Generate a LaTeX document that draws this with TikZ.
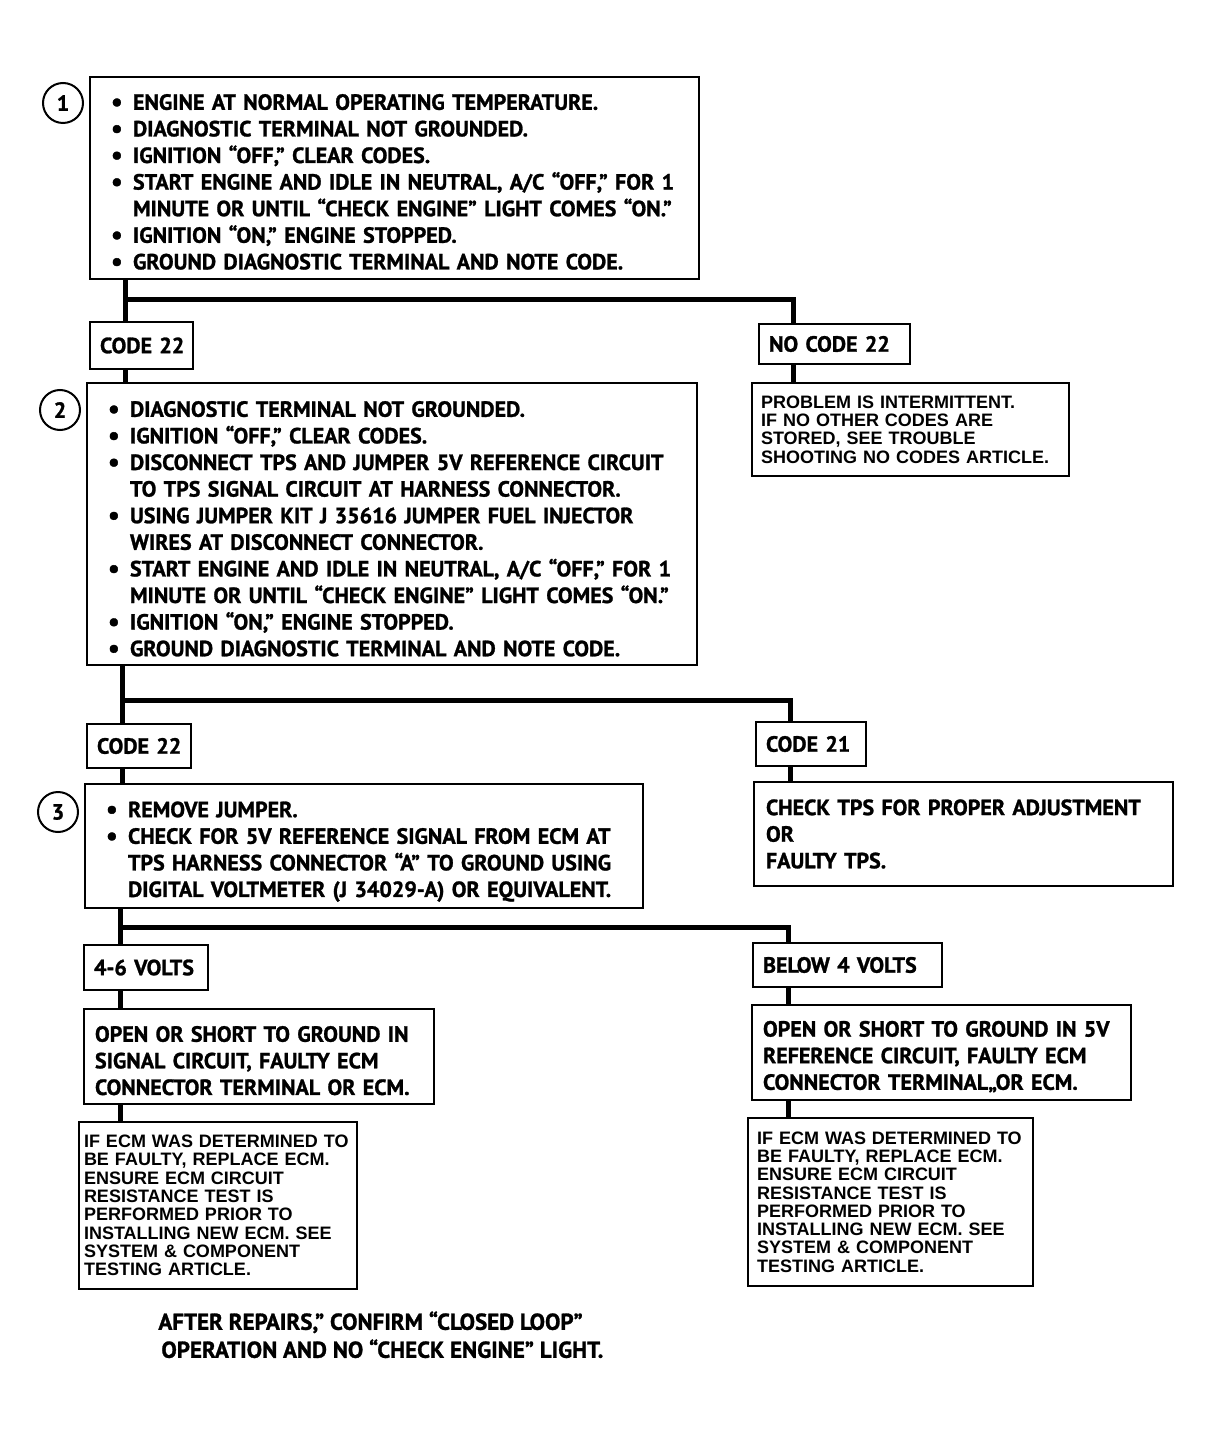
\documentclass[tikz,border=0pt]{standalone}
\usepackage{fontspec}
\setmainfont{PT Sans}[BoldFeatures={FakeBold=1.2}]
\newfontfamily\blockfont{Liberation Sans}
\usepackage{tikz}

\newcommand{\bul}{\makebox[11pt][l]{\raisebox{-0.4pt}{\fontsize{13}{13}\selectfont\textbullet}}}
\newcommand{\gap}{\makebox[11pt]{}}
\newcommand{\lift}[1]{\rule{0pt}{#1}}

\begin{document}
\begin{tikzpicture}[x=0.5pt, y=-0.5pt,
    panel/.style n args={3}{draw, line width=1pt, anchor=north west, outer sep=0pt, inner xsep=#3, inner ysep=0pt, text width=#1-2*#3, minimum height=#2, align=left, font=\bfseries\fontsize{11}{13.3}\selectfont},
    note/.style n args={3}{panel={#1}{#2}{#3}, font=\blockfont\bfseries\fontsize{9}{9.15}\selectfont},
    num/.style={circle, draw, line width=1pt, minimum size=20pt, inner sep=0pt, font=\bfseries\fontsize{11}{12}\selectfont},
    link/.style={line width=2.5pt}]

    \useasboundingbox (0,0) rectangle (1213,1433);

    \node (step1) [panel={304.5pt}{101pt}{10.5pt}] at (90,77) {
        \lift{12pt}\bul ENGINE AT NORMAL OPERATING TEMPERATURE.\\
        \bul DIAGNOSTIC TERMINAL NOT GROUNDED.\\
        \bul IGNITION “OFF,” CLEAR CODES.\\
        \bul START ENGINE AND IDLE IN NEUTRAL, A/C “OFF,” FOR 1\\
        \gap MINUTE OR UNTIL “CHECK ENGINE” LIGHT COMES “ON.”\\
        \bul IGNITION “ON,” ENGINE STOPPED.\\
        \bul GROUND DIAGNOSTIC TERMINAL AND NOTE CODE.
    };
    \node (n1) [num] at (63,103) {1};

    \node (code1) [panel={51.5pt}{23.5pt}{5pt}] at (90,322) {CODE~22};
    \node (nocode) [panel={75.5pt}{20pt}{5pt}] at (759,324) {NO CODE~22};
    \node (intermit) [note={158.5pt}{46.5pt}{4.5pt}] at (752,383) {
        PROBLEM IS INTERMITTENT.\\
        IF NO OTHER CODES ARE\\
        STORED, SEE TROUBLE\\
        SHOOTING NO CODES ARTICLE.
    };

    \node (step2) [panel={305pt}{141pt}{10.5pt}] at (87,383) {
        \lift{12.9pt}\bul DIAGNOSTIC TERMINAL NOT GROUNDED.\\
        \bul IGNITION “OFF,” CLEAR CODES.\\
        \bul DISCONNECT TPS AND JUMPER 5V REFERENCE CIRCUIT\\
        \gap TO TPS SIGNAL CIRCUIT AT HARNESS CONNECTOR.\\
        \bul USING JUMPER KIT J 35616 JUMPER FUEL INJECTOR\\
        \gap WIRES AT DISCONNECT CONNECTOR.\\
        \bul START ENGINE AND IDLE IN NEUTRAL, A/C “OFF,” FOR 1\\
        \gap MINUTE OR UNTIL “CHECK ENGINE” LIGHT COMES “ON.”\\
        \bul IGNITION “ON,” ENGINE STOPPED.\\
        \bul GROUND DIAGNOSTIC TERMINAL AND NOTE CODE.
    };
    \node (n2) [num] at (60,410) {2};

    \node (code2) [panel={52pt}{22pt}{5pt}] at (87,724) {CODE~22};
    \node (code21) [panel={55pt}{22pt}{5pt}] at (756,722) {CODE~21};
    \node (tps) [panel={209.5pt}{52pt}{6pt}] at (754,782) {
        CHECK TPS FOR PROPER ADJUSTMENT\\
        OR\\
        FAULTY TPS.
    };

    \node (step3) [panel={279pt}{62pt}{10.5pt}] at (85,784) {
        \lift{13.5pt}\bul REMOVE JUMPER.\\
        \bul CHECK FOR 5V REFERENCE SIGNAL FROM ECM AT\\
        \gap TPS HARNESS CONNECTOR “A” TO GROUND USING\\
        \gap DIGITAL VOLTMETER (J 34029-A) OR EQUIVALENT.
    };
    \node (n3) [num] at (58,812) {3};

    \node (volts46) [panel={62pt}{22.5pt}{5pt}] at (84,945) {4-6~VOLTS};
    \node (below4) [panel={94.5pt}{22pt}{5pt}] at (753,943) {BELOW 4~VOLTS};

    \node (openL) [panel={175pt}{47.5pt}{5.5pt}] at (84,1009) {
        \lift{12pt}OPEN OR SHORT TO GROUND IN\\
        SIGNAL CIRCUIT, FAULTY ECM\\
        CONNECTOR TERMINAL OR ECM.
    };
    \node (openR) [panel={189.5pt}{47.5pt}{5.5pt}] at (752,1005) {
        \lift{12pt}OPEN OR SHORT TO GROUND IN~5V\\
        REFERENCE CIRCUIT, FAULTY~ECM\\
        CONNECTOR TERMINAL,,OR~ECM.
    };

    \node (ecmL) [note={139pt}{83.5pt}{2.5pt}] at (79,1122) {
        IF ECM WAS DETERMINED~TO\\
        BE FAULTY, REPLACE ECM.\\
        ENSURE ECM CIRCUIT\\
        RESISTANCE TEST IS\\
        PERFORMED PRIOR TO\\
        INSTALLING NEW ECM. SEE\\
        SYSTEM \& COMPONENT\\
        TESTING ARTICLE.
    };
    \node (ecmR) [note={142.5pt}{84pt}{4.5pt}] at (748,1118) {
        IF ECM WAS DETERMINED TO\\
        BE FAULTY, REPLACE ECM.\\
        ENSURE ECM CIRCUIT\\
        RESISTANCE TEST IS\\
        PERFORMED PRIOR TO\\
        INSTALLING NEW ECM. SEE\\
        SYSTEM \& COMPONENT\\
        TESTING ARTICLE.
    };

    \node (after) [anchor=north west, inner sep=0pt, align=left, font=\bfseries\fontsize{11.5}{14}\selectfont] at (158,1311) {
        AFTER REPAIRS,” CONFIRM “CLOSED LOOP”\\
        \hspace*{1.5pt}OPERATION AND NO “CHECK ENGINE” LIGHT.
    };

    \coordinate (j1) at (125,300);
    \coordinate (k1) at (793,300);
    \coordinate (j2) at (122,700);
    \coordinate (k2) at (790,700);
    \coordinate (j3) at (120,927);
    \coordinate (k3) at (788,927);

    \draw [link] (j1 |- step1.south) -- (j1 |- code1.north);
    \draw [link] (j1) -- (k1) -- (k1 |- nocode.north);
    \draw [link] (k1 |- nocode.south) -- (k1 |- intermit.north);
    \draw [link] (j1 |- code1.south) -- (j1 |- step2.north);

    \draw [link] (j2 |- step2.south) -- (j2 |- code2.north);
    \draw [link] (j2) -- (k2) -- (k2 |- code21.north);
    \draw [link] (k2 |- code21.south) -- (k2 |- tps.north);
    \draw [link] (j2 |- code2.south) -- (j2 |- step3.north);

    \draw [link] (j3 |- step3.south) -- (j3 |- volts46.north);
    \draw [link] (j3) -- (k3) -- (k3 |- below4.north);
    \draw [link] (j3 |- volts46.south) -- (j3 |- openL.north);
    \draw [link] (j3 |- openL.south) -- (j3 |- ecmL.north);
    \draw [link] (k3 |- below4.south) -- (k3 |- openR.north);
    \draw [link] (k3 |- openR.south) -- (k3 |- ecmR.north);

\end{tikzpicture}
\end{document}
